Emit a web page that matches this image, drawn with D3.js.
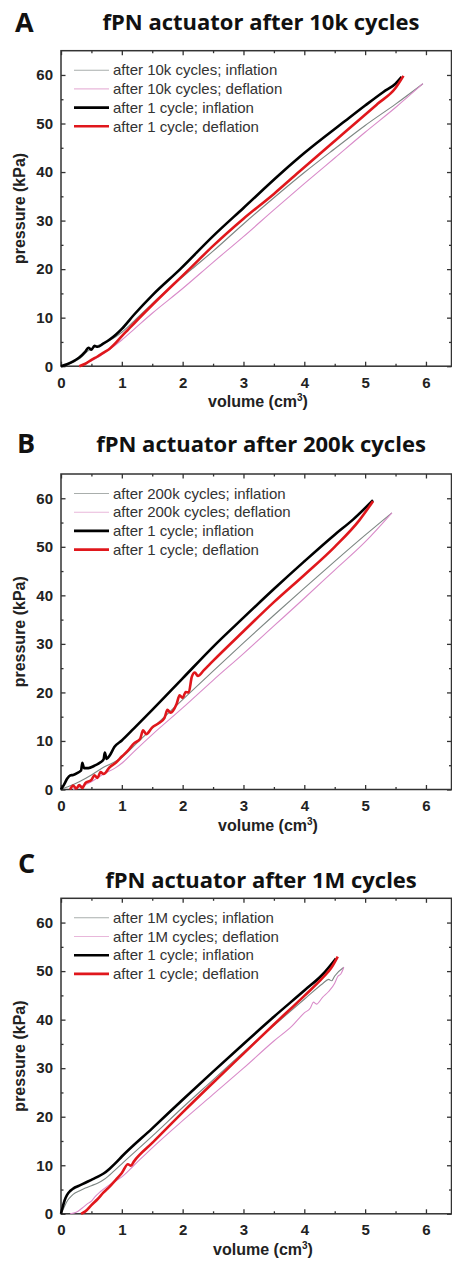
<!DOCTYPE html>
<html>
<head>
<meta charset="utf-8">
<script src="https://cdn.jsdelivr.net/npm/d3@7"></script>
<style>
  body { margin: 0; background: #fff; }
  svg { display: block; }
</style>
</head>
<body>
<div id="chart"></div>
<script>
// ---- data (volume cm3, pressure kPa) ----
const xTicks = [0, 1, 2, 3, 4, 5, 6];
const xMinorTicks = [0.5, 1.5, 2.5, 3.5, 4.5, 5.5];
const yTicks = [0, 10, 20, 30, 40, 50, 60];
const yMinorTicks = [5, 15, 25, 35, 45, 55];

const panelLetters = ['A', 'B', 'C'];
const panelTitles = ['fPN actuator after 10k cycles', 'fPN actuator after 200k cycles', 'fPN actuator after 1M cycles'];
const legendA = ['after 10k cycles; inflation', 'after 10k cycles; deflation', 'after 1 cycle; inflation', 'after 1 cycle; deflation'];
const legendB = ['after 200k cycles; inflation', 'after 200k cycles; deflation', 'after 1 cycle; inflation', 'after 1 cycle; deflation'];
const legendC = ['after 1M cycles; inflation', 'after 1M cycles; deflation', 'after 1 cycle; inflation', 'after 1 cycle; deflation'];

// panel A
const aManyInfl = [[0,0],[0.15,0.5],[0.3,1.5],[0.45,3.2],[0.6,4.2],[0.8,5.3],[1.0,7.0],[1.2,9.3],[1.5,12.9],[2.15,20],[2.5,23.7],[3.0,29.3],[3.5,34.7],[4.0,39.9],[4.5,44.8],[5.0,49.6],[5.5,54.0],[5.95,58.2]];
const aManyDefl = [[0.3,0],[0.45,0.8],[0.6,1.8],[0.8,3.5],[1.0,5.4],[1.2,7.6],[1.5,10.9],[2.0,16.0],[2.5,21.4],[3.0,26.7],[3.5,32.2],[4.0,37.6],[4.5,42.9],[5.0,48.2],[5.5,53.3],[5.95,58.2]];
const aOneInfl = [[0,0],[0.1,0.4],[0.2,1.0],[0.3,1.8],[0.4,3.0],[0.45,3.8],[0.5,3.4],[0.55,4.2],[0.6,4.0],[0.7,4.7],[0.8,5.5],[0.9,6.5],[1.0,7.7],[1.2,10.6],[1.5,14.6],[1.96,20],[2.5,26.8],[3.0,32.6],[3.64,40],[4.0,43.9],[4.67,50.5],[5.0,53.7],[5.3,56.5],[5.5,58.2],[5.6,59.6]];
const aOneDefl = [[0.3,0],[0.4,0.5],[0.5,1.3],[0.6,2.0],[0.7,2.8],[0.8,3.6],[0.9,4.8],[1.0,6.2],[1.1,7.5],[1.2,8.8],[1.5,12.6],[2.11,20],[2.5,24.8],[3.0,30.4],[3.5,35.5],[3.91,40],[4.5,46.4],[4.88,50.5],[5.2,54],[5.5,57.3],[5.63,59.8]];

// panel B
const bManyInfl = [[0,0],[0.1,0.5],[0.3,1.6],[0.5,3.0],[0.7,4.6],[0.9,5.8],[1.0,6.6],[1.2,9.0],[1.5,12.6],[2.0,18.5],[2.5,24.4],[3.0,30.2],[3.5,35.9],[4.0,41.5],[4.5,47.0],[5.0,52.4],[5.44,57.0]];
const bManyDefl = [[0.2,0],[0.3,0.5],[0.5,1.6],[0.7,3.2],[0.9,4.5],[1.0,5.4],[1.2,7.8],[1.5,11.3],[2.0,16.8],[2.5,22.5],[3.0,28.0],[3.5,33.7],[4.0,39.4],[4.5,45.2],[5.0,51.0],[5.44,57.0]];
const bOneInfl = [[0,0],[0.05,1.0],[0.1,2.2],[0.15,2.9],[0.2,3.0],[0.28,3.5],[0.33,3.9],[0.35,5.5],[0.38,4.4],[0.45,4.4],[0.55,4.9],[0.65,5.6],[0.7,6.2],[0.72,7.6],[0.75,6.3],[0.8,7.0],[0.88,8.8],[1.0,10.1],[1.2,12.6],[1.5,16.4],[2.0,22.9],[2.5,29.4],[3.0,35.4],[3.5,41.3],[4.0,47.0],[4.5,52.5],[4.8,55.6],[5.13,59.6]];
const bOneDefl = [[0.15,0],[0.2,0.8],[0.25,0.2],[0.3,0.9],[0.35,0.3],[0.4,1.3],[0.5,2.0],[0.55,2.9],[0.6,2.4],[0.65,3.6],[0.7,3.2],[0.8,4.6],[0.9,5.5],[1.0,6.8],[1.1,8.0],[1.2,9.5],[1.3,10.4],[1.35,12.2],[1.4,11.4],[1.5,12.8],[1.6,13.6],[1.7,14.7],[1.75,16.4],[1.8,15.8],[1.9,17.6],[1.95,19.4],[2.0,18.9],[2.05,20.1],[2.1,20.0],[2.15,23.2],[2.2,24.1],[2.25,23.4],[2.35,24.6],[2.5,26.5],[3.0,32.6],[3.5,38.6],[4.0,44.2],[4.5,50.0],[4.9,55.4],[5.13,59.4]];

// panel C
const cManyInfl = [[0,0],[0.05,1.3],[0.1,2.6],[0.15,3.4],[0.2,4.0],[0.3,4.7],[0.4,5.3],[0.5,5.8],[0.6,6.3],[0.7,7.0],[0.8,8.0],[1.0,10.3],[1.5,16.0],[2.0,21.9],[2.5,27.6],[3.0,33.3],[3.5,38.8],[4.0,44.2],[4.3,47.4],[4.4,48.3],[4.45,48.0],[4.5,49.0],[4.65,50.8]];
const cManyDefl = [[0.15,0],[0.25,0.3],[0.35,1.2],[0.45,2.2],[0.5,2.6],[0.55,3.4],[0.65,4.6],[0.8,6.0],[1.0,7.6],[1.2,10.0],[1.5,13.6],[2.0,19.2],[2.5,24.6],[3.0,30.0],[3.5,35.6],[3.8,38.7],[4.0,41.4],[4.1,42.4],[4.15,43.6],[4.2,43.2],[4.3,44.6],[4.4,45.8],[4.5,47.5],[4.55,48.9],[4.6,49.4],[4.65,50.8]];
const cOneInfl = [[0,0],[0.03,1.5],[0.06,2.8],[0.1,3.9],[0.15,4.7],[0.2,5.2],[0.3,5.8],[0.4,6.4],[0.5,7.0],[0.6,7.6],[0.7,8.3],[0.8,9.3],[0.9,10.5],[1.0,11.8],[1.5,17.6],[2.0,23.5],[2.5,29.3],[3.0,35.0],[3.5,40.6],[4.0,46.0],[4.3,49.3],[4.52,52.6]];
const cOneDefl = [[0.33,0],[0.4,0.5],[0.5,1.8],[0.6,3.0],[0.7,4.4],[0.8,5.6],[0.9,7.0],[1.0,8.4],[1.1,10.2],[1.15,9.9],[1.2,10.8],[1.5,14.6],[2.0,20.9],[2.5,27.0],[3.0,33.0],[3.5,39.0],[4.0,44.9],[4.3,48.6],[4.45,50.8],[4.55,53.0]];

// ---- layout ----
const width = 452, height = 1264;
const plotLeft = 61, plotRight = 451.5, plotH = 315.5;
const panelTops = [50.7, 474, 898.3];
const letterPos = [[15, 32], [17, 453], [18, 873]];
const titleBaselines = [30, 452, 888];
const xLabelCenters = [258, 268, 263];

// gray / pink thin (many cycles), black / red thick (1 cycle)
const seriesStyles = [
  {color: '#7d8683', width: 1.1},
  {color: '#d98bc9', width: 1.1},
  {color: '#000000', width: 2.6},
  {color: '#e0171c', width: 2.6}
];
const legendSwatch = ['#a9aeac', '#e8b7da', '#000000', '#e0171c'];

const panels = [
  {series: [aManyInfl, aManyDefl, aOneInfl, aOneDefl], legend: legendA},
  {series: [bManyInfl, bManyDefl, bOneInfl, bOneDefl], legend: legendB},
  {series: [cManyInfl, cManyDefl, cOneInfl, cOneDefl], legend: legendC}
];

const svg = d3.select('#chart').append('svg')
  .attr('width', width)
  .attr('height', height);

const axisFont = '"Liberation Sans", Arial, sans-serif';
const titleFont = '"Open Sans", sans-serif';

panels.forEach((p, i) => {
  const top = panelTops[i];
  const x = d3.scaleLinear().domain([0, 6.42]).range([plotLeft, plotRight]);
  const y = d3.scaleLinear().domain([0, 65]).range([top + plotH, top]);

  const g = svg.append('g').classed('panel', true);

  // panel letter + title
  g.append('text')
    .attr('x', letterPos[i][0]).attr('y', letterPos[i][1])
    .style('font-family', titleFont).style('font-weight', 700).style('font-size', '27px')
    .style('fill', '#111')
    .text(panelLetters[i]);

  g.append('text')
    .attr('x', 261).attr('y', titleBaselines[i])
    .attr('text-anchor', 'middle')
    .style('font-family', titleFont).style('font-weight', 700).style('font-size', '22px')
    .style('fill', '#111')
    .text(panelTitles[i]);

  // axes, ticks pointing inward
  g.append('g')
    .attr('transform', `translate(0,${y(0)})`)
    .call(d3.axisBottom(x).tickValues(xTicks).tickSizeInner(-4.5).tickSizeOuter(0).tickPadding(11).tickFormat(d3.format('d')));
  g.append('g')
    .attr('transform', `translate(0,${y(0)})`)
    .call(d3.axisBottom(x).tickValues(xMinorTicks).tickSize(-2.5).tickFormat(''));
  g.append('g')
    .attr('transform', `translate(0,${top})`)
    .call(d3.axisTop(x).tickValues(xTicks).tickSize(-4.5).tickFormat(''));
  g.append('g')
    .attr('transform', `translate(0,${top})`)
    .call(d3.axisTop(x).tickValues(xMinorTicks).tickSize(-2.5).tickFormat(''));

  g.append('g')
    .attr('transform', `translate(${plotLeft},0)`)
    .call(d3.axisLeft(y).tickValues(yTicks).tickSizeInner(-4.5).tickSizeOuter(0).tickPadding(8).tickFormat(d3.format('d')));
  g.append('g')
    .attr('transform', `translate(${plotLeft},0)`)
    .call(d3.axisLeft(y).tickValues(yMinorTicks).tickSize(-2.5).tickFormat(''));
  g.append('g')
    .attr('transform', `translate(${plotRight},0)`)
    .call(d3.axisRight(y).tickValues(yTicks).tickSize(-4.5).tickFormat(''));
  g.append('g')
    .attr('transform', `translate(${plotRight},0)`)
    .call(d3.axisRight(y).tickValues(yMinorTicks).tickSize(-2.5).tickFormat(''));

  g.selectAll('.domain').remove();
  g.selectAll('.tick line').style('stroke', '#333').style('stroke-width', 1.3);
  g.selectAll('.tick text')
    .style('font-family', axisFont).style('font-weight', 700).style('font-size', '15px')
    .style('fill', '#222');

  // frame
  g.append('rect')
    .attr('x', plotLeft).attr('y', top)
    .attr('width', plotRight - plotLeft).attr('height', plotH)
    .style('fill', 'none').style('stroke', '#333').style('stroke-width', 1.5);

  // axis titles
  const xl = g.append('text')
    .attr('x', xLabelCenters[i]).attr('y', y(0) + 41)
    .attr('text-anchor', 'middle')
    .style('font-family', axisFont).style('font-weight', 700).style('font-size', '16px')
    .style('fill', '#222');
  xl.append('tspan').text('volume (cm');
  xl.append('tspan').attr('dy', -6).style('font-size', '10px').text('3');
  xl.append('tspan').attr('dy', 6).text(')');

  g.append('text')
    .attr('transform', `translate(25,${top + plotH / 2}) rotate(-90)`)
    .attr('text-anchor', 'middle')
    .style('font-family', axisFont).style('font-weight', 700).style('font-size', '16px')
    .style('fill', '#222')
    .text('pressure (kPa)');

  // curves
  const line = d3.line()
    .x(d => x(d[0]))
    .y(d => y(d[1]))
    .curve(d3.curveMonotoneX);

  p.series.forEach((s, k) => {
    g.append('path')
      .datum(s)
      .attr('d', line)
      .style('fill', 'none')
      .style('stroke', seriesStyles[k].color)
      .style('stroke-width', seriesStyles[k].width)
      .style('stroke-linejoin', 'round');
  });

  // legend
  const leg = g.append('g').classed('legend', true);
  p.legend.forEach((label, k) => {
    const ly = top + 19.5 + k * 18.7;
    leg.append('line')
      .attr('x1', 74).attr('x2', 109)
      .attr('y1', ly).attr('y2', ly)
      .style('stroke', legendSwatch[k])
      .style('stroke-width', k < 2 ? 1.1 : 2.6);
    leg.append('text')
      .attr('x', 113).attr('y', ly)
      .attr('dy', '0.35em')
      .style('font-family', axisFont).style('font-size', '15px')
      .style('fill', '#333')
      .text(label);
  });
});
</script>
</body>
</html>
